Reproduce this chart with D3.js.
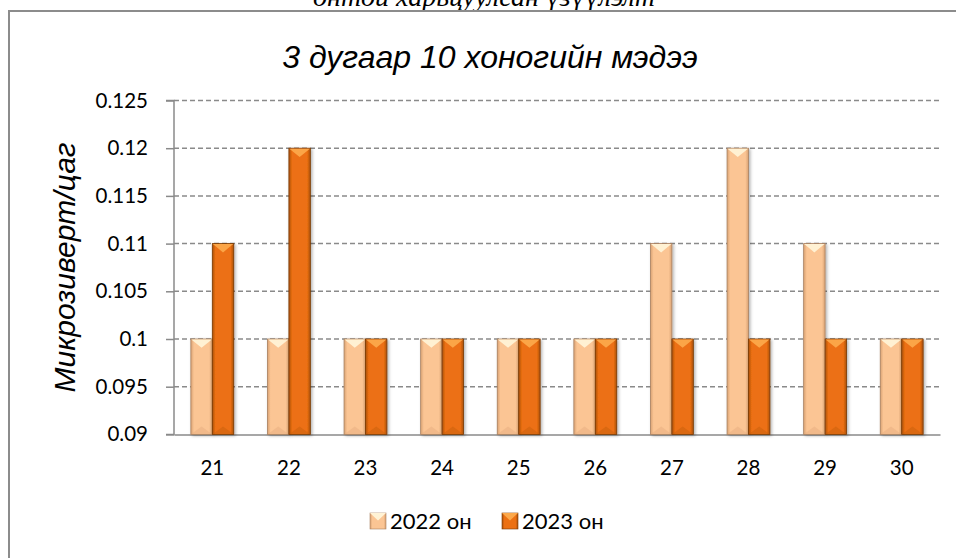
<!DOCTYPE html>
<html><head><meta charset="utf-8">
<script src="https://cdn.jsdelivr.net/npm/d3@7/dist/d3.min.js"></script>
<style>body{margin:0;background:#fff}svg{display:block}</style>
</head><body>
<svg id="c" width="956" height="558"></svg>
<script>
const categories = ["21","22","23","24","25","26","27","28","29","30"];
const seriesNames = ["2022 он","2023 он"];
const values2022 = [0.1,0.1,0.1,0.1,0.1,0.1,0.11,0.12,0.11,0.1];
const values2023 = [0.11,0.12,0.1,0.1,0.1,0.1,0.1,0.1,0.1,0.1];
const yTicks = [0.09,0.095,0.1,0.105,0.11,0.115,0.12,0.125];
const yTickLabels = ["0.09","0.095","0.1","0.105","0.11","0.115","0.12","0.125"];
const titleText = "3 дугаар 10 хоногийн мэдээ";
const yTitle = "Микрозиверт/цаг";
const topText = "онтой харьцуулсан үзүүлэлт";

const svg = d3.select("#c");
const L=174,R=940,T=100.5,B=434.4;
const palettes = [
  {main:"#FBC594",light:"#FFF3D6",dark:"#D9A273",bottom:"#E8AE80",stroke:"#A88060"},
  {main:"#EC7012",light:"#FCA84A",dark:"#A9500A",bottom:"#C8600C",stroke:"#7A3A06"}
];
const defs = svg.append("defs");
palettes.forEach((p,i)=>{
  const g = defs.append("linearGradient").attr("id","g"+i).attr("x1","0").attr("x2","1").attr("y1","0").attr("y2","0");
  g.append("stop").attr("offset","0").attr("stop-color",p.dark);
  g.append("stop").attr("offset","0.15").attr("stop-color",p.main);
  g.append("stop").attr("offset","0.85").attr("stop-color",p.main);
  g.append("stop").attr("offset","1").attr("stop-color",p.dark);
});
const f = defs.append("filter").attr("id","sh").attr("x","-30%").attr("y","-10%").attr("width","160%").attr("height","120%");
f.append("feDropShadow").attr("dx",1.5).attr("dy",1).attr("stdDeviation",1.5).attr("flood-color","#000").attr("flood-opacity",0.3);

// top clipped text (cut off in the reference too)
svg.append("text").attr("x",484).attr("y",6).attr("text-anchor","middle")
  .attr("font-family","Liberation Serif").attr("font-style","italic").attr("font-size",28).text(topText);
// border
svg.append("path").attr("d","M9,558 L9,11 L956,11").attr("fill","none").attr("stroke","#8c8c8c").attr("stroke-width",2);

svg.append("text").attr("x",490).attr("y",68).attr("text-anchor","middle")
  .attr("font-family","Liberation Sans").attr("font-style","italic").attr("font-size",32).attr("fill","#000").text(titleText);

const y = d3.scaleLinear().domain([0.09,0.125]).range([B,T]);
const x0 = d3.scaleBand().domain(categories).range([L,R]).paddingInner(0.44).paddingOuter(0.22);
const x1 = d3.scaleBand().domain([0,1]).range([0,x0.bandwidth()]).padding(0);

// gridlines
svg.append("g").selectAll("line").data(yTicks.slice(1)).join("line")
  .attr("x1",L).attr("x2",R).attr("y1",d=>y(d)).attr("y2",d=>y(d))
  .attr("stroke","#8a8a8a").attr("stroke-width",1.5).attr("stroke-dasharray","5,3");

// y axis
const yAxis = d3.axisLeft(y).tickValues(yTicks).tickFormat((d,i)=>yTickLabels[i]).tickSize(8).tickPadding(18);
const ya = svg.append("g").attr("transform",`translate(${L},0)`).call(yAxis);
ya.select(".domain").attr("stroke","#8a8a8a").attr("stroke-width",1.5).attr("d",`M-8,${T}H0V${B}H-8`);
ya.selectAll(".tick line").attr("stroke","#8a8a8a").attr("stroke-width",1.5);
ya.selectAll(".tick text").attr("font-family","Lato, 'Open Sans', sans-serif").attr("font-size",20.5).attr("fill","#000");

// x axis
const xAxis = d3.axisBottom(x0).tickSize(0).tickPadding(26);
const xa = svg.append("g").attr("transform",`translate(0,${B})`).call(xAxis);
xa.select(".domain").attr("stroke","#8a8a8a").attr("stroke-width",1.5);
xa.selectAll(".tick text").attr("font-family","Lato, 'Open Sans', sans-serif").attr("font-size",20.5).attr("fill","#000");

// y title
svg.append("text").attr("transform",`translate(75,${(T+B)/2}) rotate(-90)`).attr("text-anchor","middle")
  .attr("font-family","Liberation Sans").attr("font-style","italic").attr("font-size",30).text(yTitle);

function bevelBar(g,x,w,yt,yb,i){
  const p = palettes[i];
  const h = yb-yt, d = Math.min(8,w/2.6);
  const grp = g.append("g");
  grp.append("rect").attr("x",x).attr("y",yt).attr("width",w).attr("height",h)
    .attr("fill",`url(#g${i})`).attr("stroke",p.stroke).attr("stroke-width",0.8).attr("filter","url(#sh)");
  grp.append("path").attr("d",`M${x+0.5},${yt+0.5} L${x+w-0.5},${yt+0.5} L${x+w-d*0.6},${yt+d*0.5} L${x+w/2},${yt+d*1.1} L${x+d*0.6},${yt+d*0.5} Z`)
    .attr("fill",p.light).attr("opacity",0.95);
  grp.append("path").attr("d",`M${x+0.5},${yb-0.5} L${x+w-0.5},${yb-0.5} L${x+w/2},${yb-d*1.0} Z`)
    .attr("fill",p.bottom).attr("opacity",0.5);
}
const barsG = svg.append("g");
const allSeries = [values2022, values2023];
categories.forEach((c,ci)=>{
  allSeries.forEach((vals,si)=>{
    bevelBar(barsG, x0(c)+x1(si), x1.bandwidth(), y(vals[ci]), y(0.09), si);
  });
});

// legend
const leg = svg.append("g");
const legX = [370,502];
seriesNames.forEach((n,i)=>{
  const g = leg.append("g");
  const lx = legX[i], ly = 513;
  g.append("rect").attr("x",lx).attr("y",ly).attr("width",16).attr("height",16).attr("fill",`url(#g${i})`).attr("stroke",palettes[i].stroke).attr("stroke-width",0.6);
  g.append("path").attr("d",`M${lx},${ly} L${lx+16},${ly} L${lx+8},${ly+7.5} Z`).attr("fill",palettes[i].light);
  g.append("text").attr("x",lx+20).attr("y",ly+15.5).attr("font-family","Lato, 'Open Sans', sans-serif").attr("font-size",22).text(n);
});
</script>
</body></html>
